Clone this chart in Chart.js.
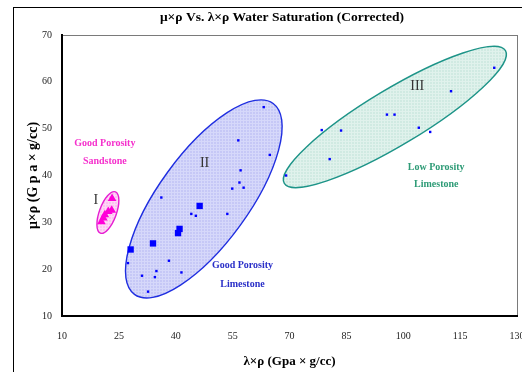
<!DOCTYPE html>
<html>
<head>
<meta charset="utf-8">
<script src="https://cdn.jsdelivr.net/npm/chart.js@4.4.1/dist/chart.umd.min.js"></script>
<style>
  html, body { margin: 0; padding: 0; background: #fff; }
  #wrap { width: 522px; height: 372px; position: relative; }
</style>
</head>
<body>
<div id="wrap"><canvas id="chart" width="522" height="372"></canvas></div>
<script>
// axis ticks
const xTicks = [10, 25, 40, 55, 70, 85, 100, 115, 130];
const yTicks = [10, 20, 30, 40, 50, 60, 70];

// Group I - good porosity sandstone (triangles)
const sandX = [23.2, 23.1, 22.2, 21.3, 20.9, 20.4];
const sandY = [35.1, 32.6, 32.3, 31.6, 30.9, 30.1];

// Group II - good porosity limestone (big squares)
const limeBigX = [28.1, 34.0, 40.6, 41.0, 46.3];
const limeBigY = [24.2, 25.5, 27.7, 28.6, 33.5];

// Group II - small points
const limeSmallX = [27.4, 31.1, 34.5, 34.9, 32.7, 38.2, 41.5, 36.2, 44.1, 45.3, 53.6, 54.9, 56.8, 57.9, 57.1, 56.5, 63.2, 64.8];
const limeSmallY = [21.3, 18.6, 18.3, 19.6, 15.2, 21.8, 19.3, 35.3, 31.8, 31.4, 31.8, 37.2, 38.5, 37.4, 41.1, 47.5, 54.6, 44.4];

// Group III - low porosity limestone
const lowX = [69.1, 78.5, 80.6, 83.6, 95.7, 97.7, 104.1, 107.1, 112.6, 124.0];
const lowY = [40.0, 49.7, 43.5, 49.6, 53.0, 53.0, 50.2, 49.3, 58.0, 63.0];

function toPoints(xs, ys) {
    return xs.map((x, i) => ({ x: x, y: ys[i] }));
}

// group outlines (center in data units, half axes in px, tilt in degrees)
const groups = [
    { cx: 22.1, cy: 32.1, a: 22, b: 8.5, angle: 70, fill: "#fbc4f0", line: "#ffd8f6", stroke: "#e61ed2" },
    { cx: 47.4, cy: 35.0, a: 118, b: 45, angle: 54, fill: "#c6c8f6", line: "#d6d8fa", stroke: "#1f2ee0" },
    { cx: 97.8, cy: 52.5, a: 129, b: 28, angle: 31, fill: "#d0eae2", line: "#e0f2ec", stroke: "#1d9488" }
];

// text labels (data positions)
const notes = [
    { text: "Good Porosity", x: 21.3, y: 46.9, color: "#f530cc", bold: true },
    { text: "Sandstone", x: 21.3, y: 43.1, color: "#f530cc", bold: true },
    { text: "I", x: 18.9, y: 34.6, color: "#333333", bold: false },
    { text: "II", x: 47.6, y: 42.7, color: "#333333", bold: false },
    { text: "Good Porosity", x: 57.6, y: 20.7, color: "#2a2fc8", bold: true },
    { text: "Limestone", x: 57.6, y: 16.8, color: "#2a2fc8", bold: true },
    { text: "III", x: 103.7, y: 59.1, color: "#333333", bold: false },
    { text: "Low Porosity", x: 108.7, y: 41.8, color: "#2e9b76", bold: true },
    { text: "Limestone", x: 108.7, y: 38.0, color: "#2e9b76", bold: true }
];

const chartTitle = "μ×ρ Vs. λ×ρ Water Saturation (Corrected)";
const serif = "'Liberation Serif', 'Times New Roman', serif";

// little grid texture like the original fills
function makePattern(ctx, base, line) {
    const c = document.createElement("canvas");
    c.width = 3;
    c.height = 3;
    const p = c.getContext("2d");
    p.fillStyle = base;
    p.fillRect(0, 0, 3, 3);
    p.fillStyle = line;
    p.fillRect(0, 0, 3, 1);
    p.fillRect(0, 0, 1, 3);
    return ctx.createPattern(c, "repeat");
}

// outer frame + plot box + title
const framePlugin = {
    id: "frame",
    beforeDraw(chart) {
        const ctx = chart.ctx;
        const area = chart.chartArea;
        ctx.save();
        ctx.fillStyle = "#fff";
        ctx.fillRect(0, 0, chart.width, chart.height);
        ctx.strokeStyle = "#000";
        ctx.lineWidth = 1;
        ctx.strokeRect(13.5, 7.5, 700, 500);
        ctx.strokeStyle = "#7a7a7a";
        ctx.strokeRect(area.left + 0.5, area.top + 0.5, area.right - area.left, area.bottom - area.top);
        // title sits a bit left of the plot center, like the original
        ctx.fillStyle = "#000";
        ctx.font = "bold 13.5px " + serif;
        ctx.textAlign = "center";
        ctx.textBaseline = "middle";
        ctx.fillText(chartTitle, 282, 18);
        ctx.restore();
    }
};

// ellipses around the groups
const ellipsePlugin = {
    id: "groupEllipses",
    beforeDatasetsDraw(chart) {
        const ctx = chart.ctx;
        const xs = chart.scales.x;
        const ys = chart.scales.y;
        groups.forEach(g => {
            ctx.save();
            ctx.beginPath();
            ctx.ellipse(xs.getPixelForValue(g.cx), ys.getPixelForValue(g.cy), g.a, g.b, -g.angle * Math.PI / 180, 0, Math.PI * 2);
            ctx.fillStyle = makePattern(ctx, g.fill, g.line);
            ctx.fill();
            ctx.lineWidth = 1.4;
            ctx.strokeStyle = g.stroke;
            ctx.stroke();
            ctx.restore();
        });
    },
    afterDatasetsDraw(chart) {
        const ctx = chart.ctx;
        const xs = chart.scales.x;
        const ys = chart.scales.y;
        ctx.save();
        ctx.textAlign = "center";
        ctx.textBaseline = "middle";
        notes.forEach(n => {
            ctx.font = n.bold ? "bold 10px " + serif : "14px " + serif;
            ctx.fillStyle = n.color;
            ctx.fillText(n.text, xs.getPixelForValue(n.x), ys.getPixelForValue(n.y));
        });
        ctx.restore();
    }
};

new Chart(document.getElementById("chart"), {
    type: "scatter",
    data: {
        datasets: [
            {
                label: "Sandstone",
                data: toPoints(sandX, sandY),
                pointStyle: "triangle",
                pointRadius: 5,
                backgroundColor: "#ff00d8",
                borderColor: "#ff00d8",
                borderWidth: 0
            },
            {
                label: "Good Porosity Limestone",
                data: toPoints(limeBigX, limeBigY),
                pointStyle: "rect",
                pointRadius: 4.5,
                backgroundColor: "#0000ff",
                borderColor: "#0000ff",
                borderWidth: 0
            },
            {
                label: "Limestone points",
                data: toPoints(limeSmallX, limeSmallY),
                pointStyle: "rect",
                pointRadius: 1.7,
                backgroundColor: "#0000ff",
                borderColor: "#0000ff",
                borderWidth: 0
            },
            {
                label: "Low Porosity Limestone",
                data: toPoints(lowX, lowY),
                pointStyle: "rect",
                pointRadius: 1.7,
                backgroundColor: "#0000ff",
                borderColor: "#0000ff",
                borderWidth: 0
            }
        ]
    },
    options: {
        responsive: false,
        animation: false,
        layout: { padding: { left: 18, right: 4, top: 35, bottom: 0 } },
        plugins: {
            legend: { display: false },
            tooltip: { enabled: false },
            title: { display: false }
        },
        scales: {
            x: {
                type: "linear",
                min: 10,
                max: 130,
                afterBuildTicks: axis => { axis.ticks = xTicks.map(v => ({ value: v })); },
                afterFit: axis => { axis.height = 56; axis.paddingLeft = 0; axis.paddingRight = 0; },
                grid: { display: false, drawTicks: true, tickLength: 4, tickColor: "#000" },
                border: { display: true, color: "#000", width: 2 },
                ticks: { color: "#222", font: { family: serif, size: 10 }, padding: 10, maxRotation: 0 },
                title: {
                    display: true,
                    text: "λ×ρ (Gpa × g/cc)",
                    color: "#000",
                    font: { family: serif, size: 13, weight: "bold" },
                    padding: { top: 0, bottom: 3 }
                }
            },
            y: {
                type: "linear",
                min: 10,
                max: 70,
                afterBuildTicks: axis => { axis.ticks = yTicks.map(v => ({ value: v })); },
                afterFit: axis => { axis.width = 44; axis.paddingTop = 0; axis.paddingBottom = 0; },
                grid: { display: false, drawTicks: true, tickLength: 4, tickColor: "#000" },
                border: { display: true, color: "#000", width: 2 },
                ticks: { color: "#222", font: { family: serif, size: 10 }, padding: 6 },
                title: {
                    display: true,
                    text: "μ×ρ (G p a × g/cc)",
                    color: "#000",
                    font: { family: serif, size: 14, weight: "bold" },
                    padding: { top: 7, bottom: 0 }
                }
            }
        }
    },
    plugins: [framePlugin, ellipsePlugin]
});
</script>
</body>
</html>
